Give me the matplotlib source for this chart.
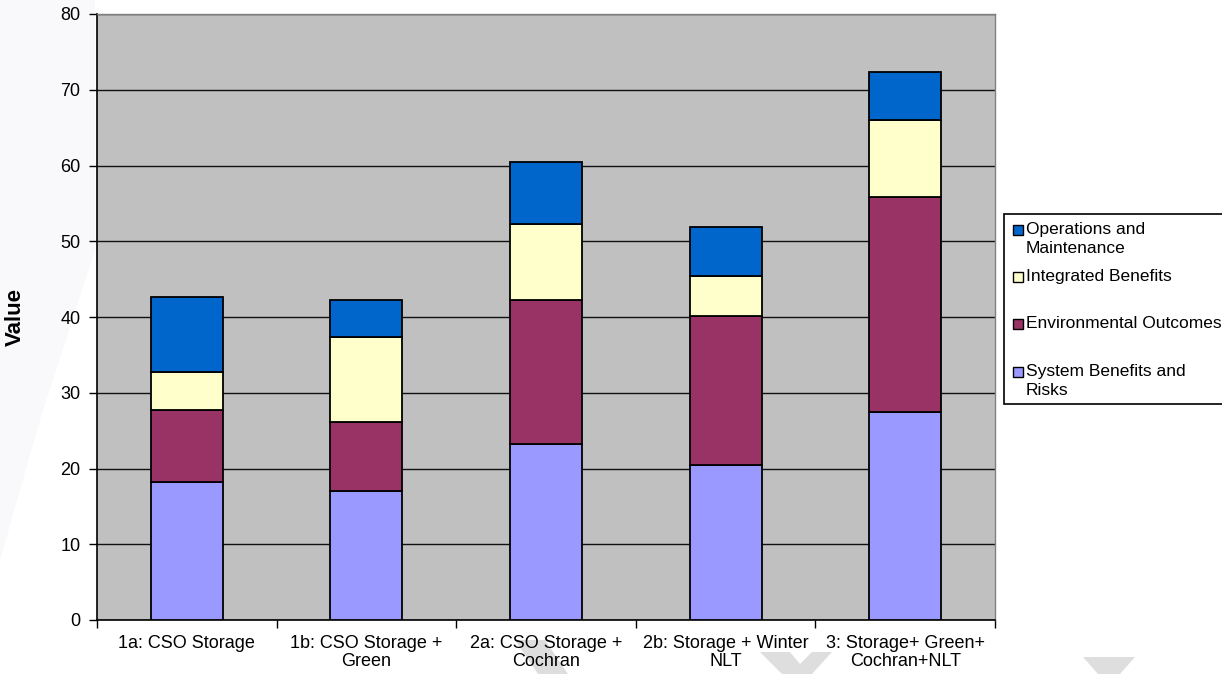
import matplotlib
matplotlib.use("Agg")
import matplotlib.pyplot as plt
from matplotlib.patches import Rectangle, Polygon
import numpy as np

plt.rcParams['font.family'] = ['Liberation Sans', 'DejaVu Sans']

categories = ["1a: CSO Storage", "1b: CSO Storage +\nGreen", "2a: CSO Storage +\nCochran",
              "2b: Storage + Winter\nNLT", "3: Storage+ Green+\nCochran+NLT"]
system_benefits = [18.2, 17.0, 23.3, 20.4, 27.5]
environmental = [9.5, 9.2, 18.9, 19.7, 28.3]
integrated = [5.1, 11.2, 10.1, 5.3, 10.2]
operations = [9.8, 4.8, 8.2, 6.5, 6.4]

series_names = ["System Benefits and\nRisks", "Environmental Outcomes",
                "Integrated Benefits", "Operations and\nMaintenance"]
series_values = [system_benefits, environmental, integrated, operations]
series_colors = ["#9999FF", "#993366", "#FFFFCC", "#0066CC"]

W, H = 1222, 674
fig = plt.figure(figsize=(W / 100, H / 100), dpi=100)
fig.patch.set_facecolor("white")

def px(x, y):
    return (x / W, 1 - y / H)

# faint background decorations
deco = [
    [(0, 0), (95, 0), (95, 250), (40, 420), (0, 560)],
    [(515, 640), (545, 640), (568, 674), (538, 674)],
    [(760, 652), (790, 652), (800, 664), (812, 652), (832, 652), (812, 674), (782, 674)],
    [(1083, 657), (1135, 657), (1120, 674), (1098, 674)],
]
cols = ["#F9F9FB", "#DEDEDE", "#DEDEDE", "#DEDEDE"]
for poly, c in zip(deco, cols):
    fig.patches.append(Polygon([px(*p) for p in poly], closed=True, transform=fig.transFigure,
                               facecolor=c, edgecolor="none", zorder=-5))

ax = fig.add_axes([97 / W, 54 / H, (995 - 97) / W, (620 - 14) / H])
ax.set_zorder(1)
ax.set_facecolor("#C0C0C0")

x = np.arange(len(categories))
bottom = np.zeros(len(categories))
for vals, col in zip(series_values, series_colors):
    ax.bar(x, vals, width=0.4, bottom=bottom, color=col, edgecolor="black", linewidth=1.3, zorder=3)
    bottom += np.array(vals)

ax.set_xlim(-0.5, len(categories) - 0.5)
ax.set_ylim(0, 80)
ax.set_yticks(np.arange(0, 81, 10))
ax.yaxis.grid(True, color="#111111", linewidth=1.0, zorder=1)
ax.set_axisbelow(True)

ax.set_xticks(x)
ax.set_xticklabels(categories, fontsize=13, linespacing=1.05)
ax.set_xticks(np.arange(-0.5, len(categories), 1.0), minor=True)
ax.tick_params(axis="x", which="major", length=0, pad=11)
ax.tick_params(axis="x", which="minor", length=6, width=1, direction="out", color="black")
ax.tick_params(axis="y", length=6, width=1, direction="out", labelsize=13, pad=6)

for s in ["left", "bottom"]:
    ax.spines[s].set_color("black")
    ax.spines[s].set_linewidth(1.2)
for s in ["top", "right"]:
    ax.spines[s].set_color("#808080")
    ax.spines[s].set_linewidth(1.0)

ax.set_ylabel("Value", fontsize=16, fontweight="bold")
ax.yaxis.set_label_coords(-0.079, 0.5)

# legend (manual, Excel-style)
lx0, ly0, ly1 = 1004, 214, 404
fig.patches.append(Rectangle(px(lx0, ly1), (W + 5 - lx0) / W, (ly1 - ly0) / H, transform=fig.transFigure,
                             facecolor="white", edgecolor="black", linewidth=1.2, zorder=5))
entry_y = [230, 277, 324, 372]
leg_order = [3, 2, 1, 0]
for yy, idx in zip(entry_y, leg_order):
    fig.patches.append(Rectangle(px(1013, yy + 5), 10 / W, 10 / H, transform=fig.transFigure,
                                 facecolor=series_colors[idx], edgecolor="black", linewidth=1.0, zorder=6))
    fig.text(1026 / W, 1 - (yy - 8) / H, series_names[idx], fontsize=12.5, va="top", ha="left",
             linespacing=1.3, zorder=7)

fig.savefig("out.png", dpi=100, facecolor=fig.get_facecolor())
